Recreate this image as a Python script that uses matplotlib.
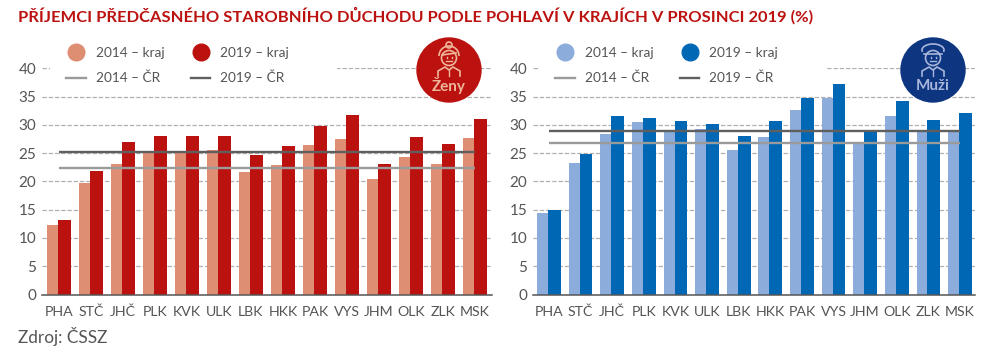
import matplotlib
matplotlib.use('Agg')
from matplotlib import pyplot as plt
from matplotlib.lines import Line2D
from matplotlib.patches import Arc, Circle, Rectangle

kraje = ['PHA', 'STČ', 'JHČ', 'PLK', 'KVK', 'ULK', 'LBK', 'HKK', 'PAK', 'VYS', 'JHM', 'OLK', 'ZLK', 'MSK']

# zeny
zeny_2014 = [12.3, 19.7, 23.1, 25.0, 25.0, 25.5, 21.6, 22.9, 26.4, 27.5, 20.4, 24.3, 23.1, 27.7]
zeny_2019 = [13.2, 21.8, 27.0, 28.0, 28.0, 28.0, 24.7, 26.2, 29.8, 31.7, 23.1, 27.8, 26.6, 31.0]
zeny_cr_2014 = 22.3
zeny_cr_2019 = 25.2

# muzi
muzi_2014 = [14.4, 23.2, 28.4, 30.5, 28.9, 29.3, 25.5, 27.8, 32.6, 34.7, 26.8, 31.5, 28.9, 28.9]
muzi_2019 = [14.9, 24.8, 31.5, 31.2, 30.7, 30.2, 28.0, 30.7, 34.8, 37.2, 28.9, 34.3, 30.9, 32.1]
muzi_cr_2014 = 26.8
muzi_cr_2019 = 28.9

W, H = 986, 353
plt.rcParams['font.family'] = ['Lato', 'Open Sans', 'DejaVu Sans']
TEXT = '#555555'

fig = plt.figure(figsize=(W / 100, H / 100), dpi=100)

# vrstva v pixelech pro nadpis, zdroj a ikony
top = fig.add_axes([0, 0, 1, 1], zorder=10)
top.set_xlim(0, W)
top.set_ylim(H, 0)
top.axis('off')


def panel(x0, x1, xlim, light, dark, cr14, cr19, c_light, c_dark, mask_x, leg_x):
    ax = fig.add_axes([x0 / W, 1 - 294.5 / H, (x1 - x0) / W, 226.2 / H])
    pos = list(range(len(kraje)))
    ax.bar([p - 0.375 for p in pos], light, width=0.36, align='edge', color=c_light, zorder=2)
    ax.bar([p - 0.03 for p in pos], dark, width=0.405, align='edge', color=c_dark, zorder=2.1)
    ax.plot([0, 13], [cr14, cr14], color='#9a9a9a', lw=1.7, zorder=3, solid_capstyle='butt')
    ax.plot([0, 13], [cr19, cr19], color='#5f5f5f', lw=1.7, zorder=3, solid_capstyle='butt')
    ax.set_xlim(*xlim)
    ax.set_ylim(0, 40)
    ax.set_yticks(range(0, 45, 5))
    ax.set_xticks(pos)
    ax.set_xticklabels(kraje, va='baseline')
    ax.tick_params(length=0, labelsize=10.2, labelcolor=TEXT)
    ax.tick_params(axis='x', pad=15.5)
    ax.tick_params(axis='y', labelsize=11, pad=4)
    ax.grid(axis='y', color='#b0b0b0', lw=0.9, ls=(0, (3.5, 1.5)), zorder=1)
    ax.set_axisbelow(True)
    for s in ['top', 'left', 'right']:
        ax.spines[s].set_visible(False)
    ax.spines['bottom'].set_color('#555555')
    ax.spines['bottom'].set_linewidth(1.1)
    # mezera v mrizce pod legendou
    ax.add_patch(Rectangle((mask_x[0], 40), mask_x[1] - mask_x[0], 45, transform=top.transData,
                           facecolor='white', edgecolor='none', zorder=4, clip_on=False))
    handles = [
        Line2D([], [], ls='', marker='o', ms=12, color=c_light),
        Line2D([], [], color='#9a9a9a', lw=1.7),
        Line2D([], [], ls='', marker='o', ms=12, color=c_dark),
        Line2D([], [], color='#5f5f5f', lw=1.7),
    ]
    labels = ['2014 – kraj', '2014 – ČR', '2019 – kraj', '2019 – ČR']
    leg = ax.legend(handles, labels, ncols=2, frameon=False, fontsize=9.8, labelcolor=TEXT,
                    handlelength=1.45, handletextpad=0.72, columnspacing=1.95, labelspacing=0.95,
                    loc='upper left', bbox_to_anchor=(leg_x, H - 47),
                    bbox_transform=matplotlib.transforms.IdentityTransform(), borderpad=0, borderaxespad=0)
    leg.set_zorder(5)
    return ax


panel(42, 492, (-0.53, 13.53), zeny_2014, zeny_2019, zeny_cr_2014, zeny_cr_2019, '#de8e73', '#bb1210', (50, 337), 66)
panel(533, 975, (-0.506, 13.475), muzi_2014, muzi_2019, muzi_cr_2014, muzi_cr_2019, '#8cacdc', '#0067b5', (538, 827), 555)


def person(cx, color, woman):
    # hlava
    top.add_patch(Circle((cx, 58), 7.5, fill=False, ec=color, lw=1.2))
    if woman:
        top.add_patch(Circle((cx, 45), 3, fill=False, ec=color, lw=1.2))
        top.add_patch(Arc((cx, 56), 20, 20, theta1=180, theta2=360, ec=color, lw=1.2))
        top.plot([cx - 7, cx + 7], [55, 53], color=color, lw=1.2)
    else:
        top.add_patch(Arc((cx, 50), 22, 12, theta1=170, theta2=370, ec=color, lw=1.2))
        top.plot([cx - 9, cx + 9], [54, 54], color=color, lw=1.2)
    top.plot([cx - 3, cx + 3], [61, 61], color=color, lw=1)
    top.plot([cx - 2.5, cx - 2.5], [57, 58], color=color, lw=1)
    top.plot([cx + 2.5, cx + 2.5], [57, 58], color=color, lw=1)
    # ramena
    top.plot([cx - 11, cx - 11, cx - 4, cx, cx + 4, cx + 11, cx + 11],
             [76, 71, 67, 70, 67, 71, 76], color=color, lw=1.2)
    top.plot([cx, cx], [70, 76], color=color, lw=1)


top.add_patch(Circle((449, 70), 32, color='#bb1210', zorder=1))
person(449, '#eeb79a', True)
top.text(449, 85.5, 'Ženy', color='#eeb79a', fontsize=11, fontweight='bold', ha='center', va='center')

top.add_patch(Circle((933, 70), 32, color='#0d3580', zorder=1))
person(933, '#a9b6dc', False)
top.text(933, 85.5, 'Muži', color='#a9b6dc', fontsize=11, fontweight='bold', ha='center', va='center')

top.text(18, 16, 'PŘÍJEMCI PŘEDČASNÉHO STAROBNÍHO DŮCHODU PODLE POHLAVÍ V KRAJÍCH V PROSINCI 2019 (%)',
         color='#bb1210', fontsize=11.85, fontweight='bold', ha='left', va='center')
top.text(18, 337, 'Zdroj: ČSSZ', color=TEXT, fontsize=12.4, ha='left', va='center')

fig.savefig('out.png', dpi=100)
